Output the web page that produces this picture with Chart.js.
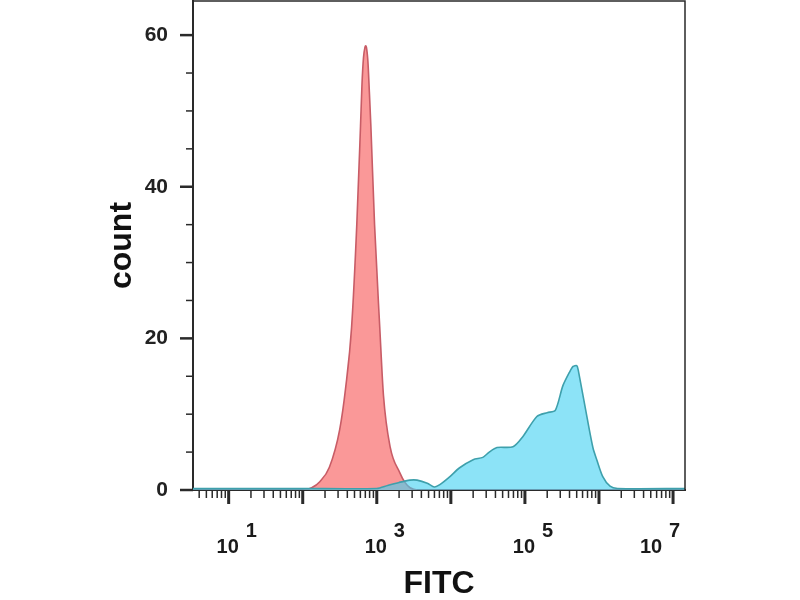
<!DOCTYPE html>
<html><head><meta charset="utf-8">
<style>html,body{margin:0;padding:0;background:#fff;} canvas{display:block;}</style>
<script src="https://cdn.jsdelivr.net/npm/chart.js@4.4.1/dist/chart.umd.min.js"></script>
</head><body>
<canvas id="c" width="800" height="600"></canvas>
<script>
// ---- data ----
const redFITC  = [3.3, 100, 132, 170, 229, 316, 380, 457, 537, 603, 631, 661, 692, 708, 724, 759, 794, 832, 933, 1096, 1230, 1514, 2042, 2399, 2818, 3548, 14500000];
const redCount = [0,   0,   0.3, 1.1, 3.0, 8.0, 13.5, 21.5, 35, 48, 53.5, 57.0, 58.4, 58.6, 58.4, 56.5, 52.5, 48, 35, 21.5, 12.5, 5.7, 2.3, 1.0, 0.3, 0, 0];

const blueFITC  = [3.3, 10, 100, 1000, 1400, 2000, 2800, 3500, 4800, 6000, 7100, 9800, 13000, 20000, 27000, 33000, 42000, 69000, 93000, 145000, 200000, 257000, 324000, 398000, 447000, 501000, 525000, 692000, 832000, 933000, 1120000, 1410000, 1780000, 14500000];
const blueCount = [0.2, 0.2, 0.2, 0.2, 0.6, 1.0, 1.3, 1.3, 0.9, 0.4, 0.7, 1.8, 2.9, 4.0, 4.3, 5.0, 5.6, 5.7, 7.0, 9.7, 10.2, 10.5, 13.7, 15.5, 16.3, 16.4, 15.8, 9.5, 5.5, 4.0, 1.8, 0.5, 0.2, 0.2];

const xTickExponents = [1, 3, 5, 7];
const yTickValues = [0, 20, 40, 60];
const yMinorStep = 5;
const xTitle = 'FITC';
const yTitle = 'count';

const FONT = '"Liberation Sans", Arial, sans-serif';
const AXIS = '#2a2a2a';

const pts = (xs, ys) => xs.map((x, i) => ({x: x, y: ys[i]}));

const axisDecor = {
  id: 'axisDecor',
  afterDraw(chart) {
    const {ctx, chartArea: a, scales: {x, y}} = chart;
    ctx.save();
    ctx.strokeStyle = AXIS;
    ctx.lineWidth = 1.5;
    ctx.beginPath();
    ctx.moveTo(a.left, a.top); ctx.lineTo(a.right, a.top); ctx.lineTo(a.right, a.bottom);
    ctx.stroke();
    // y tick marks
    for (let v = 0; v <= y.max; v += yMinorStep) {
      const py = y.getPixelForValue(v);
      const major = yTickValues.includes(v);
      ctx.lineWidth = major ? 2.5 : 1.5;
      ctx.beginPath();
      ctx.moveTo(a.left - (major ? 13 : 7), py); ctx.lineTo(a.left, py);
      ctx.stroke();
    }
    // x tick marks
    const e0 = Math.floor(Math.log10(x.min)), e1 = Math.ceil(Math.log10(x.max));
    for (let e = e0; e <= e1; e++) {
      for (let k = 1; k <= 9; k++) {
        const v = k * Math.pow(10, e);
        if (v < x.min || v > x.max) continue;
        const px = x.getPixelForValue(v);
        const major = k === 1;
        ctx.lineWidth = major ? 3 : 1.5;
        ctx.beginPath();
        ctx.moveTo(px, a.bottom); ctx.lineTo(px, a.bottom + (major ? 14 : 8));
        ctx.stroke();
      }
    }
    // x tick labels 10^n
    ctx.fillStyle = '#1a1a1a';
    ctx.textBaseline = 'alphabetic';
    xTickExponents.forEach(n => {
      const px = x.getPixelForValue(Math.pow(10, n));
      let cx = px;
      if (cx + 30 > a.right) cx = a.right - 33;
      ctx.font = 'bold 20px ' + FONT;
      ctx.textAlign = 'center';
      ctx.fillText('10', cx - 1, 553);
      ctx.font = 'bold 20px ' + FONT;
      ctx.textAlign = 'left';
      ctx.fillText(String(n), cx + 17, 537);
    });
    ctx.restore();
  }
};

new Chart(document.getElementById('c'), {
  type: 'scatter',
  data: {
    datasets: [
      {
        label: 'stained',
        data: pts(blueFITC, blueCount),
        showLine: true,
        fill: 'origin',
        backgroundColor: 'rgba(63,208,242,0.6)',
        borderColor: 'rgb(62,160,172)',
        borderWidth: 1.6,
        pointRadius: 0,
        tension: 0.25,
        order: 0
      },
      {
        label: 'control',
        data: pts(redFITC, redCount),
        showLine: true,
        fill: 'origin',
        backgroundColor: 'rgb(250,152,152)',
        borderColor: 'rgb(200,92,102)',
        borderWidth: 1.6,
        pointRadius: 0,
        cubicInterpolationMode: 'monotone',
        order: 1
      }
    ]
  },
  options: {
    responsive: false,
    animation: false,
    layout: {autoPadding: false, padding: {left: 0, right: 115, top: 1, bottom: 0}},
    plugins: {legend: {display: false}, tooltip: {enabled: false}},
    scales: {
      x: {
        type: 'logarithmic',
        position: 'bottom',
        min: 3.3,
        max: 14500000,
        grid: {display: false},
        border: {display: true, color: AXIS, width: 2},
        ticks: {display: false},
        title: {display: true, text: xTitle, color: '#111',
                font: {family: FONT, size: 32, weight: 'bold', lineHeight: 1},
                padding: {top: 0, bottom: 0}},
        afterFit(s) { s.height = 110; s.paddingLeft = 0; s.paddingRight = 0; }
      },
      y: {
        type: 'linear',
        min: 0,
        max: 64.5,
        grid: {display: false},
        border: {display: true, color: AXIS, width: 2},
        ticks: {font: {family: FONT, size: 21, weight: 'bold'}, color: '#222', padding: 17, includeBounds: false},
        afterBuildTicks(s) { s.ticks = yTickValues.map(v => ({value: v})); },
        title: {display: true, text: yTitle, color: '#111',
                font: {family: FONT, size: 32, weight: 'bold', lineHeight: 1},
                padding: {top: 106, bottom: 0}},
        afterFit(s) { s.width = 193; s.paddingTop = 0; s.paddingBottom = 0; }
      }
    }
  },
  plugins: [axisDecor]
});
</script>
</body></html>
